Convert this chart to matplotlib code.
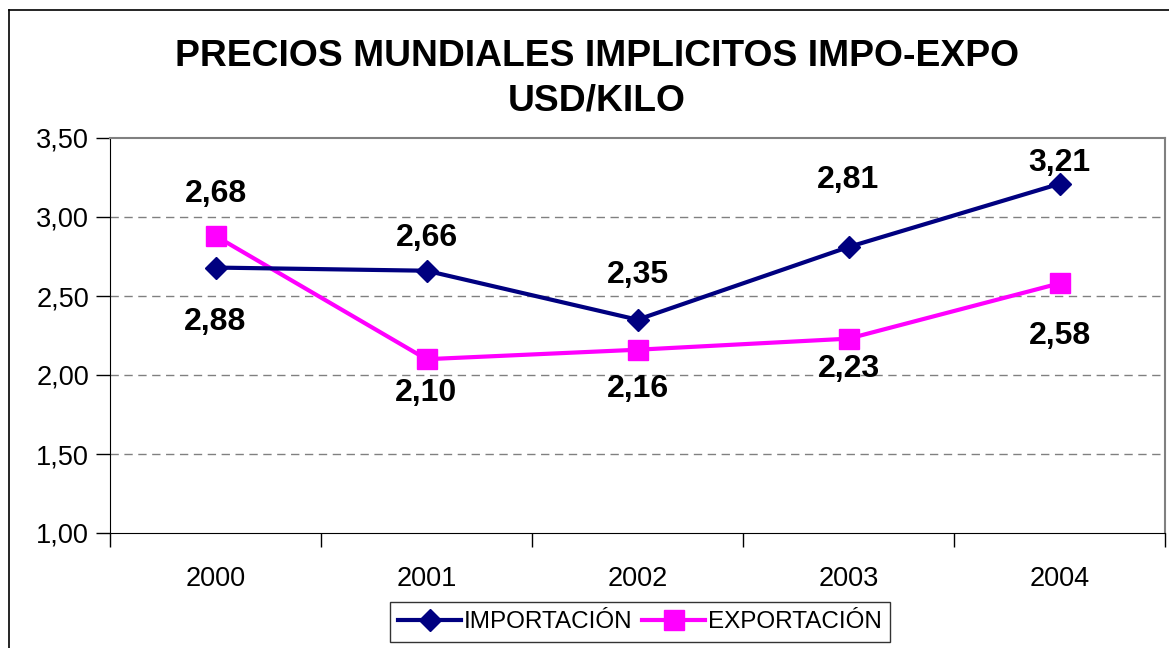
import numpy as np
import matplotlib
matplotlib.use("Agg")
import matplotlib.pyplot as plt
from matplotlib.lines import Line2D
from matplotlib.ticker import FuncFormatter

plt.rcParams["font.family"] = ["Liberation Sans", "DejaVu Sans"]

years = ["2000", "2001", "2002", "2003", "2004"]
importacion = [2.68, 2.66, 2.35, 2.81, 3.21]
exportacion = [2.88, 2.10, 2.16, 2.23, 2.58]

fig = plt.figure(figsize=(11.69, 6.48), dpi=100)
ax = fig.add_axes([110/1169, 115/648, 1055/1169, 395/648])

x = np.arange(len(years))
ax.plot(x, importacion, color="#000080", lw=3, marker="D", ms=11,
        label="IMPORTACIÓN", zorder=4)
ax.plot(x, exportacion, color="#FF00FF", lw=3, marker="s", ms=15,
        label="EXPORTACIÓN", zorder=3)

# label offsets in pixels (Excel labels, some moved by hand)
imp_off = [74, 33, 45, 67, 21]
exp_off = [-86, -34, -39, -30, -53]
for i in range(len(years)):
    ax.annotate("{:.2f}".format(importacion[i]).replace(".", ","),
                xy=(x[i], importacion[i]), xytext=(0, imp_off[i] * 0.72),
                textcoords="offset points", ha="center", va="center",
                fontsize=23, fontweight="bold", zorder=5)
    ax.annotate("{:.2f}".format(exportacion[i]).replace(".", ","),
                xy=(x[i], exportacion[i]), xytext=(0, exp_off[i] * 0.72),
                textcoords="offset points", ha="center", va="center",
                fontsize=23, fontweight="bold", zorder=5)

ax.set_xlim(-0.5, 4.5)
ax.set_ylim(1.0, 3.5)
ax.set_yticks(np.arange(1.0, 3.51, 0.5))
ax.yaxis.set_major_formatter(FuncFormatter(lambda v, p: "{:.2f}".format(v).replace(".", ",")))
ax.set_xticks(x)
ax.set_xticklabels(years)
ax.set_xticks(np.arange(-0.5, 4.6, 1), minor=True)
ax.tick_params(axis="x", which="major", length=0, pad=24, labelsize=19.5)
ax.tick_params(axis="x", which="minor", length=10, width=1, direction="out")
ax.tick_params(axis="y", length=10, width=1, direction="out", labelsize=19.5, pad=5)

for yv in [1.5, 2.0, 2.5, 3.0]:
    ax.axhline(yv, color="#808080", lw=1, ls=(0, (6, 4)), zorder=1)

ax.spines["top"].set_color("#808080")
ax.spines["right"].set_color("#808080")
ax.spines["top"].set_linewidth(1.5)
ax.spines["right"].set_linewidth(1.5)

fig.text(597/1169, 1 - 57/648, "PRECIOS MUNDIALES IMPLICITOS IMPO-EXPO",
         ha="center", va="center", fontsize=26.8, fontweight="bold")
fig.text(597/1169, 1 - 101/648, "USD/KILO",
         ha="center", va="center", fontsize=26.8, fontweight="bold")

leg = fig.legend(loc="center", bbox_to_anchor=(640/1169, 1 - 622/648), ncol=2,
                 fontsize=17.5, frameon=True, fancybox=False, handlelength=2.6,
                 handletextpad=0.1, columnspacing=0.4, borderpad=0.35)
leg.get_frame().set_edgecolor("black")
leg.get_frame().set_linewidth(1)

fig.add_artist(Line2D([9/1169, 9/1169], [0, 1 - 10/648], color="black", lw=1.2))
fig.add_artist(Line2D([9/1169, 1], [1 - 10/648, 1 - 10/648], color="black", lw=1.2))

fig.savefig("out.png", dpi=100)
